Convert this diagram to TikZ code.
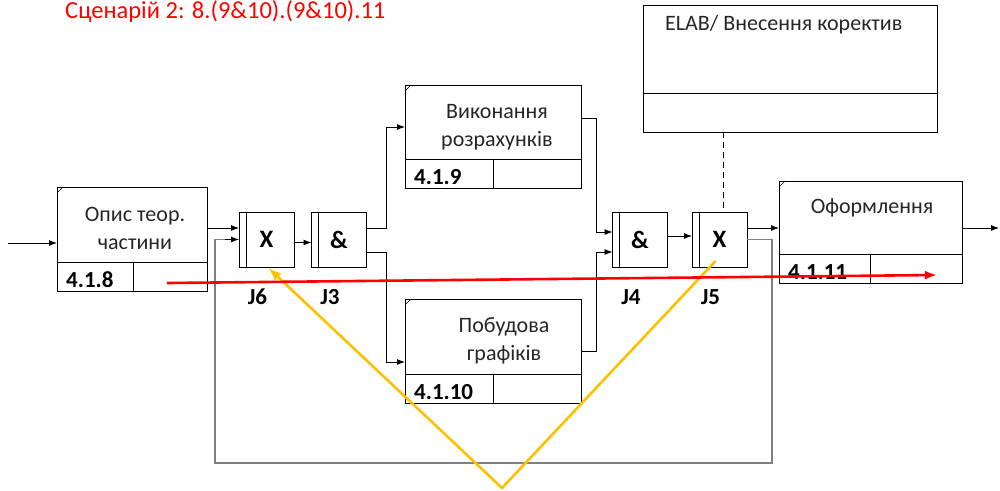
\documentclass[tikz,border=0pt]{standalone}
\usepackage{fontspec}
\setmainfont{Carlito}
\usetikzlibrary{arrows.meta,calc}
\definecolor{scenred}{HTML}{FF0000}
\definecolor{pathgold}{HTML}{FFC000}
\definecolor{backgrey}{HTML}{808080}

\tikzset{
  uob/.style={draw, line width=0.9pt, anchor=north west, inner sep=0pt, outer sep=0pt},
  junc/.style={draw, line width=0.9pt, minimum width=55pt, minimum height=55pt, inner sep=0pt, outer sep=0pt,
    font=\fontsize{25}{25}\selectfont\bfseries},
  boxtext/.style={align=center, inner sep=0pt, font=\fontsize{22}{28}\selectfont, text=black!85},
  numtext/.style={anchor=base west, inner sep=0pt, font=\fontsize{23}{23}\selectfont\bfseries},
  link/.style={line width=0.9pt, -{Latex[length=8pt,width=6pt]}},
  backline/.style={line width=1.2pt, draw=backgrey},
}

\begin{document}
\begin{tikzpicture}[x=1pt,y=-1pt]
\useasboundingbox (0,0) rectangle (1000,490);
% scenario title
\node[anchor=base west, inner sep=0pt, text=scenred, font=\fontsize{24.5}{28}\selectfont] (title) at (65,18) {Сценарій 2: 8.(9\&10).(9\&10).11};

% units of behaviour
\node[uob, minimum width=150pt, minimum height=104pt] (opys) at (57,187) {};
\node[uob, minimum width=176pt, minimum height=103pt] (vykon) at (405,85) {};
\node[uob, minimum width=176pt, minimum height=104pt] (pobud) at (405,299) {};
\node[uob, minimum width=183pt, minimum height=102pt] (oform) at (779,181) {};
\node[uob, minimum width=294pt, minimum height=127pt] (elab) at (643,5) {};
\draw[line width=0.9pt] ([yshift=39pt]elab.south west) -- ([yshift=39pt]elab.south east);
\foreach \b/\d/\n in {opys/76/4.1.8, vykon/88/4.1.9, pobud/88/4.1.10, oform/91/4.1.11}{
  \draw[line width=0.9pt] ([yshift=29pt]\b.south west) -- ([yshift=29pt]\b.south east);
  \draw[line width=0.9pt] ([xshift=\d pt]\b.south west) -- ++(0,-29);
  \draw[line width=0.6pt] (\b.north west) ++(0,6) -- ++(6,-6);
  \node[numtext] (\b num) at ([shift={(9,-4)}]\b.south west) {\n};
}
\node[boxtext] (opystxt) at (135,228.5) {Опис теор.\\частини};
\node[boxtext] (vykontxt) at (497,127) {Виконання\\розрахунків};
\node[boxtext] (pobudtxt) at (504,341) {Побудова\\графіків};
\node[boxtext, anchor=base] (oformtxt) at (872,213) {Оформлення};
\node[boxtext, anchor=base west] (elabtxt) at (665,30) {ELAB/ Внесення коректив};

% junctions
\foreach \j/\cx/\t/\l in {j6/266.5/X/J6, j3/339/\&/J3, j4/640/\&/J4, j5/719.5/X/J5}{
  \node[junc] (\j) at (\cx,239.5) {\t};
  \draw[line width=0.9pt] ([xshift=7pt]\j.north west) -- ([xshift=7pt]\j.south west);
  \node[anchor=base, inner sep=0pt, font=\fontsize{23}{23}\selectfont\bfseries] (\j lab) at (\cx-9,304) {\l};
}

% connectors
\coordinate (in) at (8,243);
\coordinate (out) at (999,228);
\draw[link] (in) -- (in -| opys.west);
\draw[link] ([yshift=11pt]opys.east) -- ([yshift=11pt]opys.east -| j6.west);
\draw[link] ([yshift=-3pt]j6.east) -- ([yshift=-3pt]j3.west);
\draw[link] ([yshift=11.5pt]j3.east) -- ++(20,0) |- ([yshift=9.5pt]vykon.west);
\draw[link] ([yshift=-12.5pt]j3.east) -- ++(20,0) |- ([yshift=-11pt]pobud.west);
\draw[link] ([yshift=18.5pt]vykon.east) -- ++(15,0) |- ([yshift=7.5pt]j4.west);
\draw[link] (pobud.east) -- ++(15,0) |- ([yshift=-12.5pt]j4.west);
\draw[link] ([yshift=3.5pt]j4.east) -- ([yshift=3.5pt]j5.west);
\draw[link] ([yshift=11.5pt]j5.east) -- ([yshift=11.5pt]j5.east -| oform.west);
\draw[link] ([yshift=4pt]oform.east) -- (out);
\draw[line width=0.8pt, dash pattern=on 6pt off 4pt] ([xshift=3.5pt]j5.north |- elab.south) -- ([xshift=3.5pt]j5.north);
% back loop
\draw[backline] (j5.east) -- ++(25,0) -- ++(0,223.5) -| ([xshift=-24pt]j6.west) -- ++(10,0);
\draw[link] ([xshift=-14pt]j6.west) -- (j6.west);

% scenario path marks
\coordinate (vtip) at (502,488);
\coordinate (redstart) at (167,283);
\coordinate (redend) at (937,275);
\draw[pathgold, line width=2.6pt, line join=round, {Latex[length=13pt,width=10pt]}-] ([xshift=2pt,yshift=-1pt]j6.south) -- (vtip) -- ([shift={(-4,21.5)}]j5.center);
\draw[scenred, line width=2.6pt, -{Latex[length=12pt,width=9pt]}] (redstart) -- (redend);
\end{tikzpicture}
\end{document}
